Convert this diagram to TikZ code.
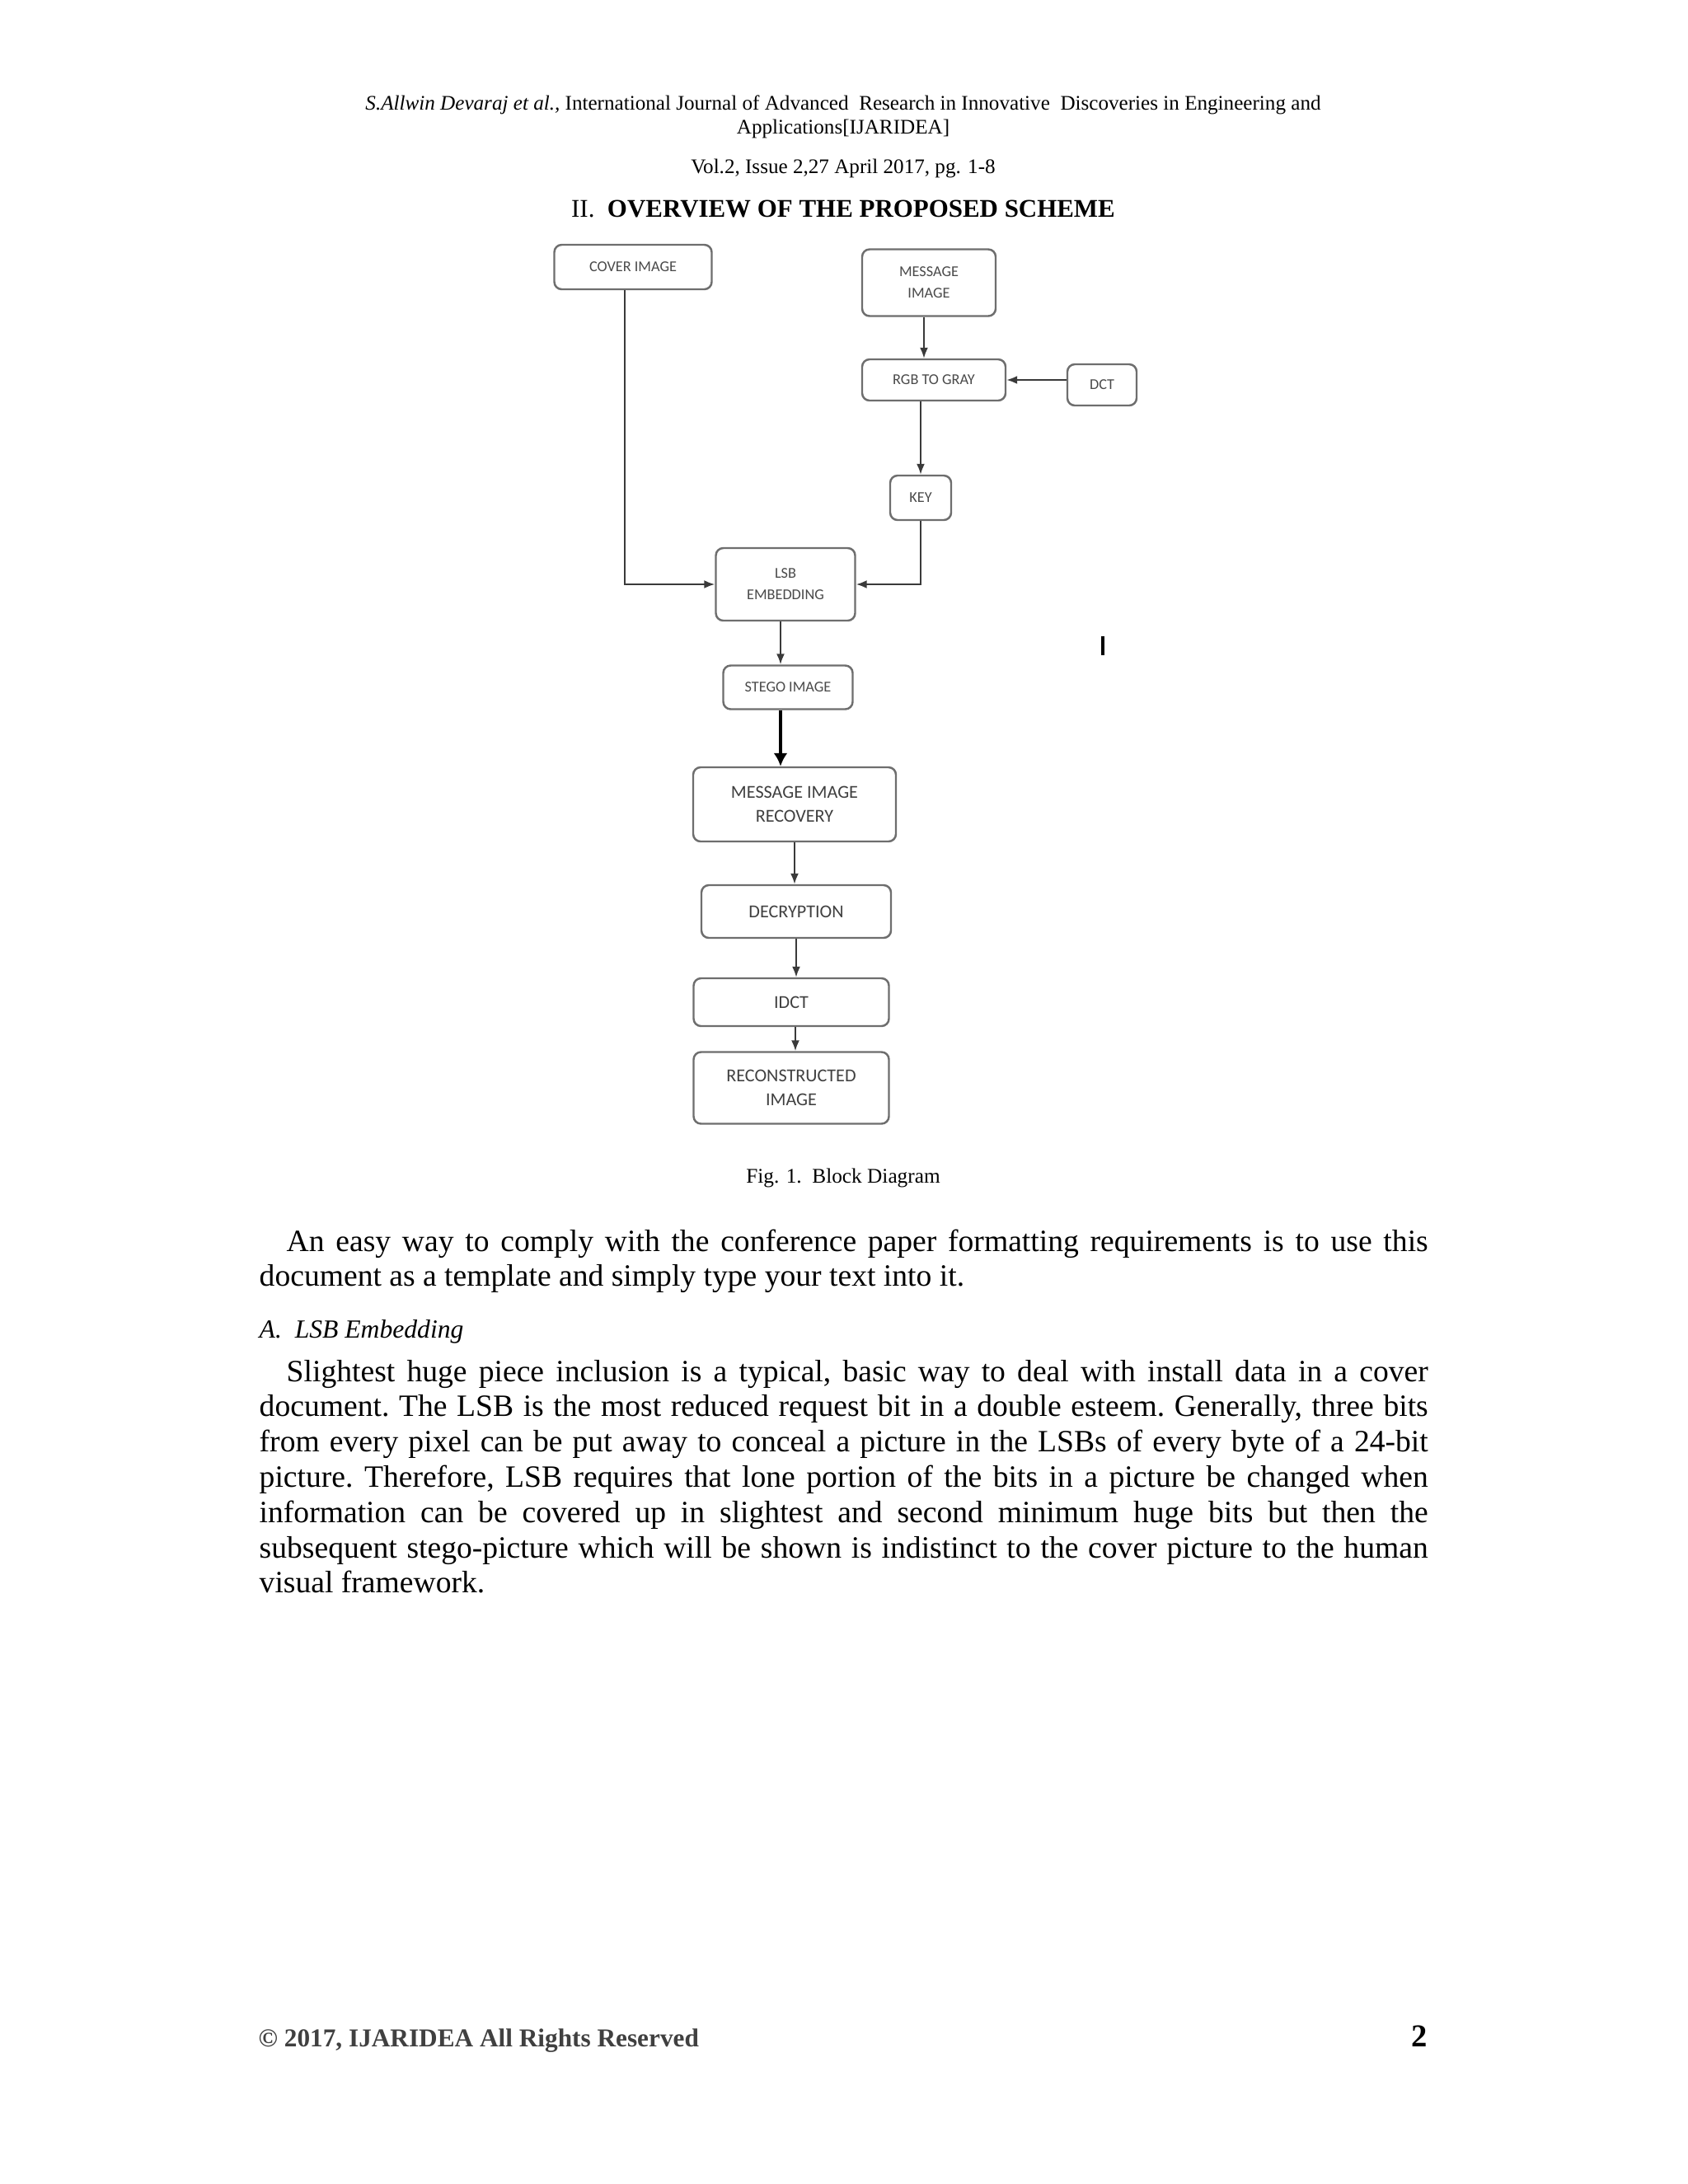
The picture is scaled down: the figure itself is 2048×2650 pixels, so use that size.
\documentclass[tikz,border=0pt]{standalone}
\usepackage{fontspec}
\setmainfont{Liberation Serif}
\newfontfamily\boxfont{Carlito}
\usetikzlibrary{arrows.meta}
\definecolor{boxline}{HTML}{6E6E6E}
\definecolor{boxtext}{HTML}{4A4A4A}
\definecolor{wire}{HTML}{3A3A3A}
\tikzset{
  block/.style={draw=boxline, line width=0.7pt, rounded corners=0.9mm, inner sep=0pt,
    align=center, text=boxtext, font=\boxfont\fontsize{5.2}{7.4}\selectfont},
  bigblock/.style={block, text=black!75, font=\boxfont\fontsize{6.3}{8.4}\selectfont},
  flow/.style={draw=wire, line width=0.6pt, -{Latex[length=1.3mm,width=1mm]}},
  boldflow/.style={draw=black, line width=1.1pt, -{Latex[length=1.6mm,width=1.7mm]}},
  headtext/.style={anchor=base, inner sep=0pt, font=\fontsize{7.15}{8.25}\selectfont},
  bodytext/.style={anchor=base west, inner sep=0pt, text width=141.8mm, align=justify,
    font={\fontsize{10.7}{12.18}\selectfont\frenchspacing}},
}
\begin{document}
\begin{tikzpicture}[x=0.1mm, y=-0.1mm]
\useasboundingbox[fill=white] (0,0) rectangle (2048,2650);

% running head
\node[headtext] (head1) at (1023,133) {\textit{S.Allwin Devaraj et al.,} International Journal of Advanced\ \ Research in Innovative\ \ Discoveries in Engineering and};
\node[headtext] (head2) at (1023,162) {Applications[IJARIDEA]};
\node[headtext] (vol) at (1023,210) {Vol.2, Issue 2,27 April 2017, pg. 1-8};
\node[anchor=base, inner sep=0pt, font=\fontsize{8.8}{10}\selectfont] (sect) at (1023,263) {II.\ \ \textbf{OVERVIEW OF THE PROPOSED SCHEME}};

% blocks
\node[block, minimum width=19.1mm, minimum height=5.4mm] (cover) at (768,324) {COVER IMAGE};
\node[block, minimum width=16.2mm, minimum height=8.1mm] (msg) at (1127,343) {MESSAGE\\IMAGE};
\node[block, minimum width=17.4mm, minimum height=5mm] (rgb) at (1133,461) {RGB TO GRAY};
\node[block, minimum width=8.4mm, minimum height=5mm] (dct) at (1337,467) {DCT};
\node[block, minimum width=7.4mm, minimum height=5.4mm] (key) at (1117,604) {KEY};
\node[block, minimum width=16.9mm, minimum height=8.8mm] (lsb) at (953,709) {LSB\\EMBEDDING};
\node[block, minimum width=15.7mm, minimum height=5.3mm] (stego) at (956,834) {STEGO IMAGE};
\node[bigblock, minimum width=24.6mm, minimum height=9mm] (mir) at (964,976) {MESSAGE IMAGE\\RECOVERY};
\node[bigblock, minimum width=23mm, minimum height=6.4mm] (dec) at (966,1106) {DECRYPTION};
\node[bigblock, minimum width=23.7mm, minimum height=5.8mm] (idct) at (960,1216) {IDCT};
\node[bigblock, minimum width=23.7mm, minimum height=8.7mm] (recon) at (960,1320) {RECONSTRUCTED\\IMAGE};

% connectors
\draw[flow] ([xshift=-0.6mm]msg.south) -- ([xshift=-0.6mm]msg.south |- rgb.north);
\draw[flow] (dct.west |- rgb.east) -- (rgb.east);
\draw[flow] (key.north |- rgb.south) -- (key.north);
\draw[flow] (key.south) |- (lsb.east);
\draw[flow] ([xshift=-1mm]cover.south) |- (lsb.west);
\draw[flow] ([xshift=-0.6mm]lsb.south) -- ([xshift=-0.6mm]lsb.south |- stego.north);
\draw[boldflow] ([xshift=-0.9mm]stego.south) -- ([xshift=-0.9mm]stego.south |- mir.north);
\draw[flow] (mir.south) -- (mir.south |- dec.north);
\draw[flow] (dec.south) -- (dec.south |- idct.north);
\draw[flow] ([xshift=0.5mm]idct.south) -- ([xshift=0.5mm]idct.south |- recon.north);
\draw[line width=1pt] (1338,772) -- (1338,795);

\node[anchor=base, inner sep=0pt, font=\fontsize{7.2}{8}\selectfont] (caption) at (1023,1435) {Fig. 1.\ \ Block Diagram};

% body text
\node[bodytext] (para1) at (314,1518) {\hspace*{9.4pt}An easy way to comply with the conference paper formatting requirements is to use this\linebreak document as a template and simply type your text into it.};
\node[anchor=base west, inner sep=0pt, font=\fontsize{9}{10}\selectfont\itshape] (subsec) at (314,1623) {A.\ \ LSB Embedding};
\node[bodytext] (para2) at (314,1676) {\hspace*{9.4pt}Slightest huge piece inclusion is a typical, basic way to deal with install data in a cover\linebreak document. The LSB is the most reduced request bit in a double esteem. Generally, three bits\linebreak from every pixel can be put away to conceal a picture in the LSBs of every byte of a 24-bit\linebreak picture. Therefore, LSB requires that lone portion of the bits in a picture be changed when\linebreak information can be covered up in slightest and second minimum huge bits but then the\linebreak subsequent stego-picture which will be shown is indistinct to the cover picture to the human\linebreak visual framework.};

% footer
\node[anchor=base west, inner sep=0pt, text=black!75, font=\fontsize{8.9}{10}\selectfont\bfseries] (copyright) at (313,2483) {\textcopyright{} 2017, IJARIDEA All Rights Reserved};
\node[anchor=base east, inner sep=0pt, font=\fontsize{11}{12}\selectfont\bfseries] (pageno) at (1733,2483) {2};
\end{tikzpicture}
\end{document}
